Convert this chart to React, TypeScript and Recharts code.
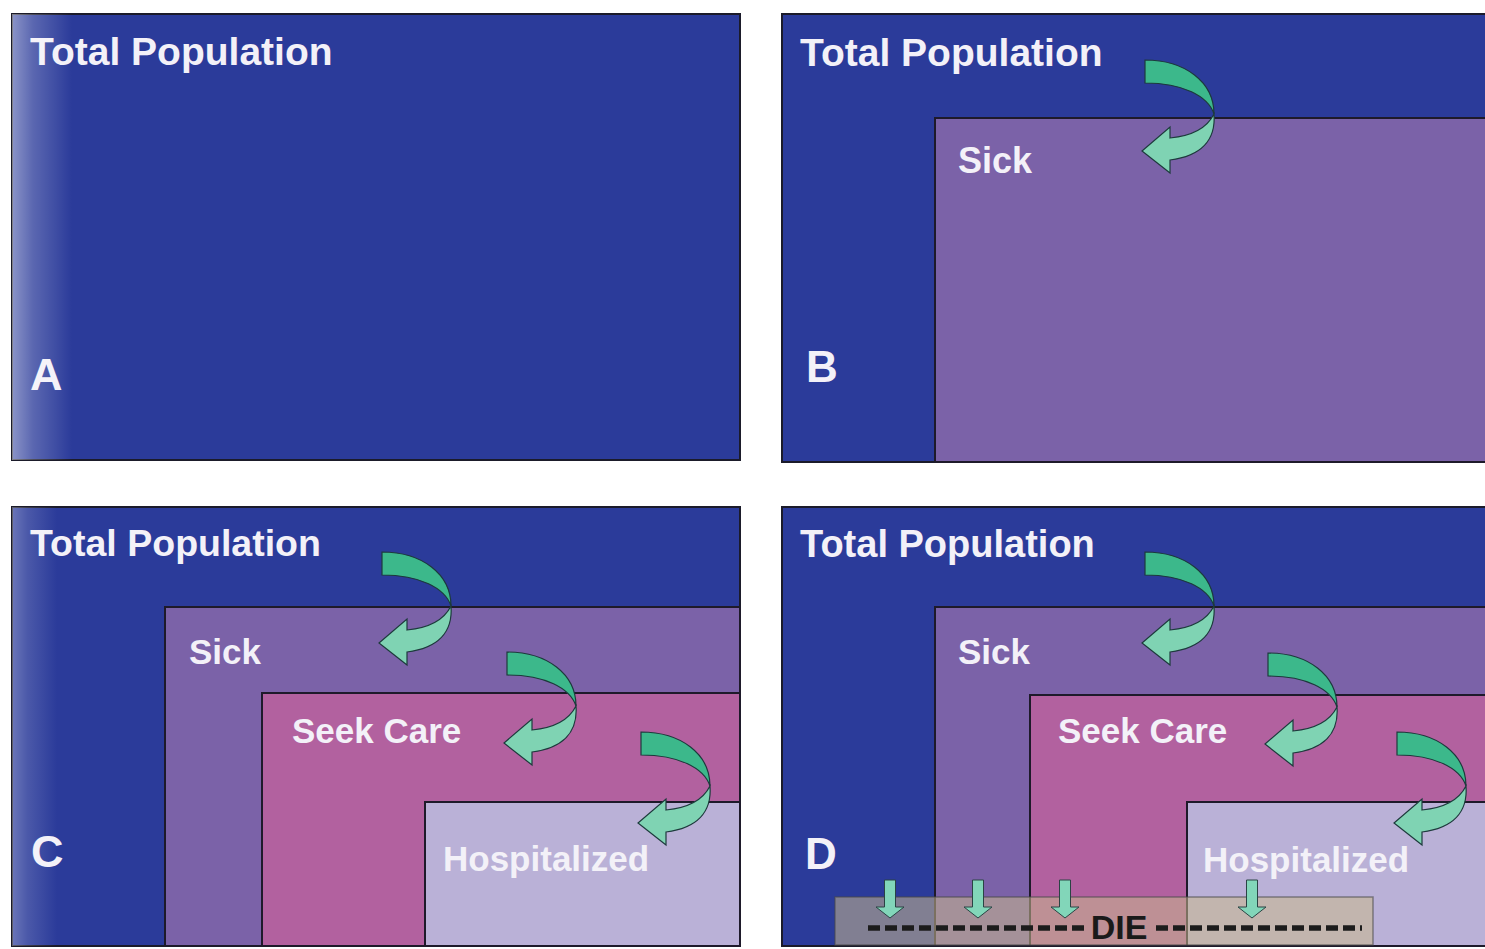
import React from 'react';
import { ComposedChart, XAxis, YAxis, ReferenceArea, ReferenceLine, Scatter } from 'recharts';

const W = 1485;
const H = 949;

// panels (pixel space of the figure)
const panels = [
  { id: 'A', x1: 12, x2: 740, y1: 14, y2: 460 },
  { id: 'B', x1: 782, x2: 1492, y1: 14, y2: 462 },
  { id: 'C', x1: 12, x2: 740, y1: 507, y2: 946 },
  { id: 'D', x1: 782, x2: 1492, y1: 507, y2: 946 },
];

// nested groups
const groups = [
  { name: 'Sick', x1: 935, x2: 1492, y1: 118, y2: 462, color: '#7b62a8' },
  { name: 'Sick', x1: 165, x2: 740, y1: 607, y2: 946, color: '#7b62a8' },
  { name: 'Seek Care', x1: 262, x2: 740, y1: 693, y2: 946, color: '#b2619f' },
  { name: 'Hospitalized', x1: 425, x2: 740, y1: 802, y2: 946, color: '#bab1d7' },
  { name: 'Sick', x1: 935, x2: 1492, y1: 607, y2: 946, color: '#7b62a8' },
  { name: 'Seek Care', x1: 1030, x2: 1492, y1: 695, y2: 946, color: '#b2619f' },
  { name: 'Hospitalized', x1: 1187, x2: 1492, y1: 802, y2: 946, color: '#bab1d7' },
];

const dieBox = { x1: 835, x2: 1373, y1: 897, y2: 945 };

const dieDashes = [
  { x1: 868, x2: 1086, y: 928 },
  { x1: 1156, x2: 1362, y: 928 },
];

const labels = [
  { x: 30, y: 65, text: 'Total Population', size: 39 },
  { x: 30, y: 390, text: 'A', size: 45 },
  { x: 800, y: 66, text: 'Total Population', size: 39 },
  { x: 958, y: 173, text: 'Sick', size: 36 },
  { x: 806, y: 382, text: 'B', size: 44 },
  { x: 30, y: 556, text: 'Total Population', size: 37.5 },
  { x: 189, y: 664, text: 'Sick', size: 35 },
  { x: 292, y: 743, text: 'Seek Care', size: 35 },
  { x: 443, y: 871, text: 'Hospitalized', size: 35 },
  { x: 31, y: 867, text: 'C', size: 45 },
  { x: 800, y: 557, text: 'Total Population', size: 38 },
  { x: 958, y: 664, text: 'Sick', size: 35 },
  { x: 1058, y: 743, text: 'Seek Care', size: 35 },
  { x: 1203, y: 872, text: 'Hospitalized', size: 35 },
  { x: 805, y: 869, text: 'D', size: 44 },
];

const dieLabel = [{ x: 1119, y: 939, text: 'DIE', size: 34 }];

const curvedArrows = [
  { x: 1145, y: 60 },
  { x: 382, y: 552 },
  { x: 507, y: 652 },
  { x: 641, y: 732 },
  { x: 1145, y: 552 },
  { x: 1268, y: 653 },
  { x: 1397, y: 732 },
];

const downArrows = [
  { x: 890, y: 880 },
  { x: 978, y: 880 },
  { x: 1065, y: 880 },
  { x: 1252, y: 880 },
];

const fades = [
  { x: 12, y: 14, w: 60, h: 446, o: 0.45 },
  { x: 12, y: 507, w: 45, h: 439, o: 0.3 },
];

const FONT = '"Liberation Sans", Arial, Helvetica, sans-serif';

const CurvedArrow = (p: any) => {
  const { cx, cy } = p;
  return (
    <g transform={`translate(${cx},${cy})`}>
      <path
        d="M0,0 C40,0 69,22 69,54 C63,36 38,23 0,23 Z"
        fill="#3cb88b"
        stroke="#1d3a3c"
        strokeWidth={1.2}
      />
      <path
        d="M69,54 C71,80 56,96 25,100 L25,113 L-3,91 L25,67 L25,78 C46,76 62,68 69,54 Z"
        fill="#7fd3b3"
        stroke="#1d3a3c"
        strokeWidth={1.2}
      />
    </g>
  );
};

const DownArrow = (p: any) => {
  const { cx, cy } = p;
  return (
    <path
      transform={`translate(${cx},${cy})`}
      d="M-5.5,0 L5.5,0 L5.5,27 L14,27 L0,38 L-14,27 L-5.5,27 Z"
      fill="#82d6b9"
      stroke="#2a4444"
      strokeWidth={1}
    />
  );
};

const Label = (p: any) => {
  const { cx, cy, payload } = p;
  return (
    <text
      x={cx}
      y={cy}
      fill="#f3f1f8"
      fontFamily={FONT}
      fontWeight="bold"
      fontSize={payload.size}
    >
      {payload.text}
    </text>
  );
};

const DieText = (p: any) => {
  const { cx, cy, payload } = p;
  return (
    <text
      x={cx}
      y={cy}
      fill="#1a1a1a"
      fontFamily={FONT}
      fontWeight="bold"
      fontSize={payload.size}
      textAnchor="middle"
    >
      {payload.text}
    </text>
  );
};

const Fade = (p: any) => {
  const { cx, cy, payload } = p;
  return (
    <rect x={cx} y={cy} width={payload.w} height={payload.h} fill="url(#leftFade)" opacity={payload.o} />
  );
};

export default function App() {
  return (
    <div style={{ position: 'absolute', left: 0, top: 0, width: W, height: H, background: '#ffffff' }}>
      <ComposedChart width={W} height={H} margin={{ top: 0, right: 0, bottom: 0, left: 0 }}>
        <defs>
          <linearGradient id="leftFade" x1="0" y1="0" x2="1" y2="0">
            <stop offset="0%" stopColor="#ffffff" stopOpacity={1} />
            <stop offset="35%" stopColor="#ffffff" stopOpacity={0.5} />
            <stop offset="100%" stopColor="#ffffff" stopOpacity={0} />
          </linearGradient>
        </defs>
        <XAxis type="number" dataKey="x" domain={[0, W]} hide allowDataOverflow />
        <YAxis type="number" dataKey="y" domain={[0, H]} reversed hide allowDataOverflow />
        {panels.map((p) => (
          <ReferenceArea
            key={p.id}
            x1={p.x1}
            x2={p.x2}
            y1={p.y1}
            y2={p.y2}
            ifOverflow="visible"
            fill="#2b3b9a"
            fillOpacity={1}
            stroke="#1b1b2a"
            strokeWidth={2}
          />
        ))}
        {groups.map((g, i) => (
          <ReferenceArea
            key={'g' + i}
            x1={g.x1}
            x2={g.x2}
            y1={g.y1}
            y2={g.y2}
            ifOverflow="visible"
            fill={g.color}
            fillOpacity={1}
            stroke="#1e1a2a"
            strokeWidth={2}
          />
        ))}
        <ReferenceArea
          x1={dieBox.x1}
          x2={dieBox.x2}
          y1={dieBox.y1}
          y2={dieBox.y2}
          ifOverflow="visible"
          fill="#c9b88c"
          fillOpacity={0.55}
          stroke="#4a4a4a"
          strokeOpacity={0.6}
          strokeWidth={1.5}
        />
        {dieDashes.map((d, i) => (
          <ReferenceLine
            key={'d' + i}
            segment={[
              { x: d.x1, y: d.y },
              { x: d.x2, y: d.y },
            ]}
            stroke="#1c1c1c"
            strokeWidth={5.5}
            strokeDasharray="12 5"
            ifOverflow="visible"
          />
        ))}
        <Scatter data={downArrows} shape={DownArrow} isAnimationActive={false} />
        <Scatter data={curvedArrows} shape={CurvedArrow} isAnimationActive={false} />
        <Scatter data={labels} shape={Label} isAnimationActive={false} />
        <Scatter data={dieLabel} shape={DieText} isAnimationActive={false} />
        <Scatter data={fades} shape={Fade} isAnimationActive={false} />
      </ComposedChart>
    </div>
  );
}
